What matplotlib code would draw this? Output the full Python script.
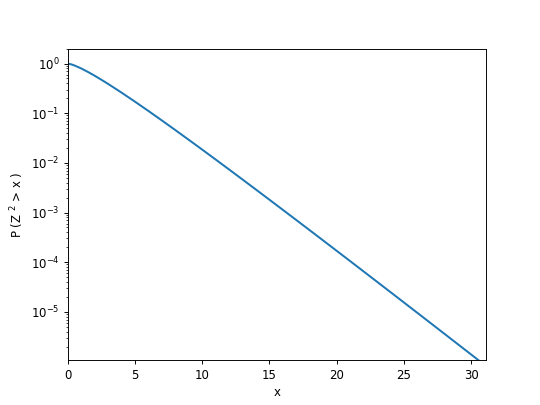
import matplotlib
matplotlib.use("Agg")
from matplotlib import pyplot as plt

# tail probability (log scale)
xdata = [0, 0.25, 0.5, 1, 1.5, 2, 2.5, 3, 4, 5, 6, 7, 8, 9, 10,
         11, 12, 13, 14, 15, 16, 17, 18, 19, 20,
         21, 22, 23, 24, 25, 26, 27, 28, 29, 30, 31]
ydata = [1.0, 0.9692, 0.9189, 0.8013, 0.6823, 0.5724, 0.4753, 0.3916,
         0.2615, 0.1718, 0.1116, 0.07190, 0.04601, 0.02929, 0.01857,
         0.01173, 0.007385, 0.004637, 0.002905, 0.001817, 0.001134,
         7.068e-4, 4.399e-4, 2.734e-4, 1.697e-4,
         1.053e-4, 6.523e-5, 4.038e-5, 2.498e-5, 1.544e-5, 9.537e-6,
         5.887e-6, 3.632e-6, 2.239e-6, 1.380e-6, 8.50e-7]

# default 6.4x4.8 figure, rendered at 540x405
fig = plt.figure(figsize=(6.4, 4.8), dpi=84.375)
plt.semilogy(xdata, ydata, linewidth=1.7)

plt.xlim(0, 31.1)
plt.ylim(1.05e-6, 2)

plt.xlabel('x')
plt.ylabel('P (Z $^2$ > x )')

# save image
plt.savefig('out.png')
